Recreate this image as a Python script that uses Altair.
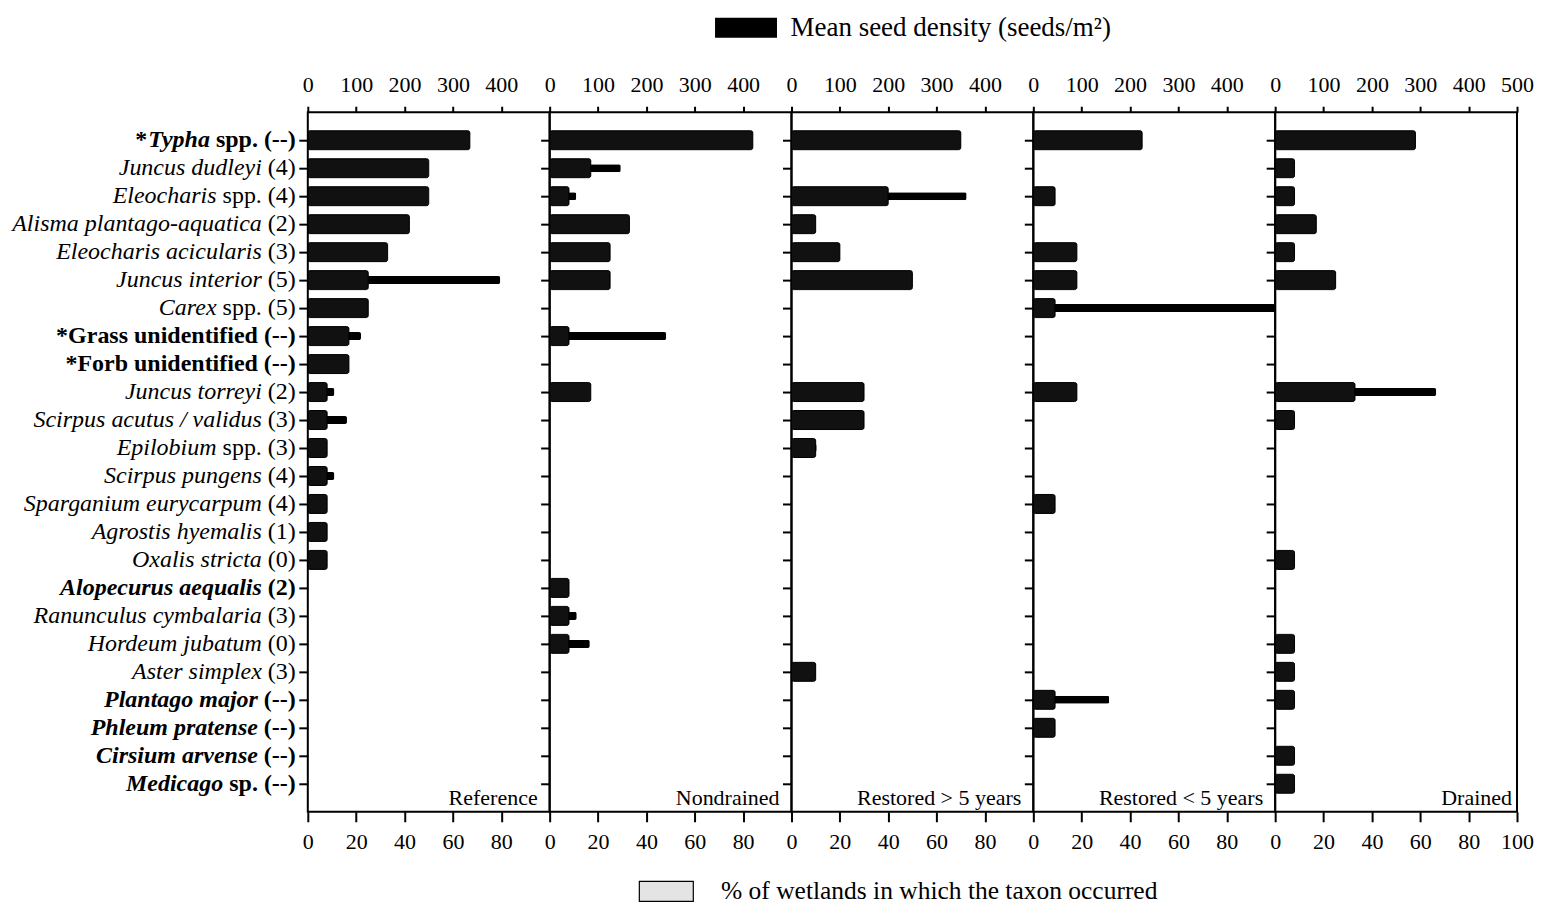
import altair as alt
import pandas as pd

FONT = "Liberation Serif"
LBL = 24

# ---- row labels (prefix upright, italic part, upright suffix, bold flag) ----
lab_prefix = ["*", "", "", "", "", "", "", "", "", "", "", "", "", "", "", "", "", "", "", "", "", "", "", ""]
lab_ital = ["Typha", "Juncus dudleyi", "Eleocharis", "Alisma plantago-aquatica", "Eleocharis acicularis",
            "Juncus interior", "Carex", "", "", "Juncus torreyi", "Scirpus acutus / validus", "Epilobium",
            "Scirpus pungens", "Sparganium eurycarpum", "Agrostis hyemalis", "Oxalis stricta",
            "Alopecurus aequalis", "Ranunculus cymbalaria", "Hordeum jubatum", "Aster simplex",
            "Plantago major", "Phleum pratense", "Cirsium arvense", "Medicago"]
lab_suffix = [" spp. (--)", " (4)", " spp. (4)", " (2)", " (3)", " (5)", " spp. (5)",
              "*Grass unidentified (--)", "*Forb unidentified (--)", " (2)", " (3)", " spp. (3)",
              " (4)", " (4)", " (1)", " (0)", " (2)", " (3)", " (0)", " (3)", " (--)", " (--)", " (--)", " sp. (--)"]
lab_bold = [True, False, False, False, False, False, False, True, True, False, False, False,
            False, False, False, False, True, False, False, False, True, True, True, True]

keys = [p + i + s for p, i, s in zip(lab_prefix, lab_ital, lab_suffix)]

panel_names = ["Reference", "Nondrained", "Restored > 5 years", "Restored < 5 years", "Drained"]

# ---- data per panel: species present, % of wetlands, mean seed density ----
ref_rows = [0, 1, 2, 3, 4, 5, 6, 7, 8, 9, 10, 11, 12, 13, 14, 15]
ref_pct = [67, 50, 50, 42, 33, 25, 25, 17, 17, 8, 8, 8, 8, 8, 8, 8]
ref_dens = [300, 220, 200, 170, 130, 398, 100, 110, 70, 55, 81, 30, 55, 30, 30, 30]

nd_rows = [0, 1, 2, 3, 4, 5, 7, 9, 16, 17, 18]
nd_pct = [84, 17, 8, 33, 25, 25, 8, 17, 8, 8, 8]
nd_dens = [380, 147, 55, 140, 100, 100, 241, 70, 30, 56, 83]

r5p_rows = [0, 2, 3, 4, 5, 9, 10, 11, 19]
r5p_pct = [70, 40, 10, 20, 50, 30, 30, 10, 10]
r5p_dens = [320, 362, 40, 80, 200, 120, 120, 52, 40]

r5m_rows = [0, 2, 4, 5, 6, 9, 13, 20, 21]
r5m_pct = [45, 9, 18, 18, 9, 18, 9, 9, 9]
r5m_dens = [200, 35, 75, 75, 500, 75, 35, 157, 35]

dr_rows = [0, 1, 2, 3, 4, 5, 9, 10, 15, 18, 19, 20, 22, 23]
dr_pct = [58, 8, 8, 17, 8, 25, 33, 8, 8, 8, 8, 8, 8, 8]
dr_dens = [260, 35, 35, 70, 35, 100, 333, 35, 35, 35, 35, 35, 35, 35]

panel_data = [(ref_rows, ref_pct, ref_dens), (nd_rows, nd_pct, nd_dens), (r5p_rows, r5p_pct, r5p_dens),
              (r5m_rows, r5m_pct, r5m_dens), (dr_rows, dr_pct, dr_dens)]

DENS_LABEL = "Mean seed density (seeds/m\u00b2)"
PCT_LABEL = "% of wetlands in which the taxon occurred"

W, H = 242, 700
THICK = "#111111"

# glyph advance widths (Times-compatible metrics) used to butt upright suffix against italic text
REG = {' ': 250, '(': 333, ')': 333, '-': 333, '.': 250, 's': 389, 'p': 500}
BLD = {' ': 250, '(': 333, ')': 333, '-': 333, '.': 250, 's': 389, 'p': 556}
for d in "0123456789":
    REG[d] = 500
    BLD[d] = 500
BI = {'T': 611, 'y': 444, 'p': 500, 'h': 556, 'a': 500}


def tw(s, m):
    return sum(m.get(c, 500) for c in s) * LBL / 1000.0


lab_rows = []
for k, p, it, su, b in zip(keys, lab_prefix, lab_ital, lab_suffix, lab_bold):
    xs = -12.0
    xi = xs - (tw(su, BLD if b else REG) if it else 0)
    xp = xi - tw(it, BI)
    lab_rows.append(dict(key=k, pre=p, ital=it, suf=su, bold=b, xs=xs, xi=xi, xp=xp))
lab_df = pd.DataFrame(lab_rows)

yscale = alt.Scale(domain=keys, paddingInner=0, paddingOuter=0.5)
yaxis = alt.Axis(labels=False, ticks=True, tickSize=9, domain=False, title=None,
                 tickColor="black", tickWidth=2)
yenc = alt.Y("key:N", scale=yscale, axis=yaxis, sort=None)

leg_top = alt.Legend(orient="none", legendX=425, legendY=-98, title=None, labelFont=FONT,
                     labelFontSize=27, labelColor="black", labelLimit=0, padding=0,
                     symbolType="M-3.1,-1H3.1V1H-3.1Z", symbolSize=400, labelOffset=31,
                     symbolStrokeWidth=0)
leg_bot = alt.Legend(orient="none", legendX=346, legendY=767, title=None, labelFont=FONT,
                     labelFontSize=25.5, labelColor="black", labelLimit=0, padding=0,
                     symbolType="M-2.7,-1H2.7V1H-2.7Z", symbolSize=400, labelOffset=42,
                     symbolStrokeWidth=1.2)


def make_panel(i):
    rows, pct, dens = panel_data[i]
    df = pd.DataFrame({"key": [keys[r] for r in rows], "pct": pct, "dens": dens,
                       "pl": PCT_LABEL, "dl": DENS_LABEL})
    last = i == 4
    bvals = [0, 20, 40, 60, 80, 100] if last else [0, 20, 40, 60, 80]
    tvals = [0, 100, 200, 300, 400, 500] if last else [0, 100, 200, 300, 400]
    pscale = alt.Scale(domain=[0, 100], nice=False, zero=True)
    thin = alt.Chart(df).mark_bar(size=8, cornerRadius=2).encode(
        x=alt.X("dens:Q", scale=alt.Scale(domain=[0, 500], nice=False, zero=True, clamp=True),
                axis=alt.Axis(orient="top", values=tvals, title=None, tickSize=6, labelPadding=10,
                              labelFlush=False, labelOverlap=False, domain=False, grid=False,
                              tickColor="black", tickWidth=2)),
        y=yenc,
        color=alt.Color("dl:N", scale=alt.Scale(domain=[DENS_LABEL], range=["black"]), legend=leg_top),
    )
    thick = alt.Chart(df).mark_bar(size=19, fill=THICK, stroke="black", strokeWidth=1,
                                   cornerRadius=2).encode(
        x=alt.X("pct:Q", scale=pscale,
                axis=alt.Axis(orient="bottom", values=bvals, title=None, tickSize=10, labelPadding=10,
                              labelFlush=False, labelOverlap=False, domain=False, grid=False,
                              tickColor="black", tickWidth=2)),
        y=yenc,
    )
    # legend-only layer for the % of wetlands key (light swatch, as in the printed key)
    key_layer = alt.Chart(df).transform_filter("false").mark_bar(
        fill="#e4e4e4", strokeWidth=1.2
    ).encode(
        x=alt.X("pct:Q", scale=pscale, axis=None),
        y=yenc,
        stroke=alt.Stroke("pl:N", scale=alt.Scale(domain=[PCT_LABEL], range=["black"]), legend=leg_bot),
    )
    name = alt.Chart(pd.DataFrame({"t": [panel_names[i]]})).mark_text(
        align="right", baseline="alphabetic", font=FONT, fontSize=22, color="black"
    ).encode(text="t:N", x=alt.value(W - (5 if last else 12)), y=alt.value(H - 7))
    layers = [thin, thick, key_layer, name]
    if i == 0:
        base = alt.Chart(lab_df)
        for col, xcol, style, wflag in [("suf", "xs", "normal", False), ("suf", "xs", "normal", True),
                                        ("ital", "xi", "italic", False), ("ital", "xi", "italic", True),
                                        ("pre", "xp", "normal", True)]:
            layers.append(
                base.transform_filter(alt.datum.bold == wflag).mark_text(
                    align="right", baseline="middle", font=FONT, fontSize=LBL, color="black",
                    fontStyle=style, fontWeight="bold" if wflag else "normal"
                ).encode(text=f"{col}:N", x=alt.X(f"{xcol}:Q", scale=None, axis=None), y=yenc)
            )
    return alt.layer(*layers).resolve_scale(x="independent").properties(width=W, height=H)


chart = alt.hconcat(*[make_panel(i) for i in range(5)], spacing=0, bounds="flush").resolve_scale(
    color="shared", stroke="shared"
).configure_view(stroke="black", strokeWidth=2).configure_axis(
    labelFont=FONT, labelFontSize=22, labelColor="black"
).properties(padding={"left": 3, "top": 6, "right": 0, "bottom": 2}, background="white")

chart.save("out.html", embed_options={"renderer": "svg", "actions": False})
